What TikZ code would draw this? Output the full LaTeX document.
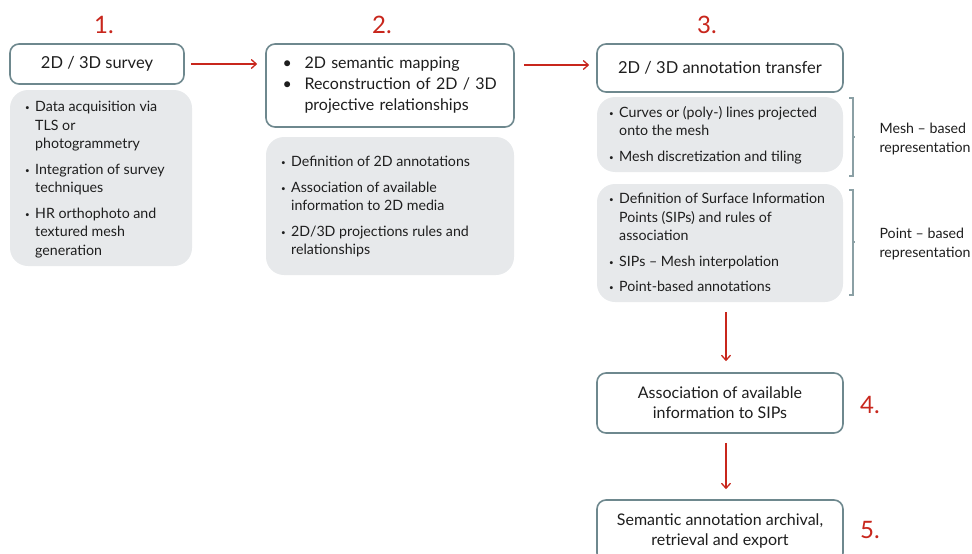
\documentclass[tikz,border=0pt]{standalone}
\usepackage{fontspec}
\setmainfont{Lato}
\usepackage{tikz}
\usetikzlibrary{arrows.meta, positioning, calc}
\definecolor{frame1}{RGB}{110, 136, 142}
\definecolor{panel1}{RGB}{231, 233, 235}
\definecolor{red1}{RGB}{200, 38, 28}
\definecolor{ink1}{RGB}{30, 30, 30}
\newcommand{\bul}{\makebox[10pt][l]{\raisebox{1pt}{\footnotesize\textbullet}}}
\newcommand{\ind}{\hspace*{10pt}}
\newcommand{\bigbul}{\makebox[22pt][l]{\textbullet}}
\tikzset{
  headbox/.style={draw=frame1, line width=1.6pt, fill=white, rounded corners=9pt, text=ink1, font=\fontsize{16.5}{20}\selectfont, align=center},
  panel/.style={fill=panel1, rounded corners=18pt, text=ink1, font=\fontsize{14.2}{18.5}\selectfont, align=left, anchor=north west, inner sep=0pt},
  stepnum/.style={text=red1, font=\fontsize{24}{24}\selectfont},
  flow/.style={draw=red1, line width=1.3pt, -{Straight Barb[length=5pt, width=9pt, line width=1.3pt]}},
  bracket/.style={draw=frame1!80, line width=1.6pt},
  sidelabel/.style={text=ink1, font=\fontsize{14.2}{18.5}\selectfont, align=left, anchor=west}
}

\begin{document}
\begin{tikzpicture}[x=1pt, y=-1pt]
  \useasboundingbox (0,0) rectangle (972,554);

  % step numbers
  \node[stepnum] (n1) at (104,25) {1.};
  \node[stepnum] (n2) at (382,25) {2.};
  \node[stepnum] (n3) at (707,25) {3.};
  \node[stepnum] (n4) at (870,405) {4.};
  \node[stepnum] (n5) at (870,530) {5.};

  % column 1
  \node[headbox, minimum width=174pt, minimum height=40pt] (survey) at (97,64) {2D / 3D survey};
  \fill[panel1, rounded corners=18pt] (10,90) rectangle (192,266);
  \node[panel] (surveytxt) at (25,101) {
    \bul Data acquisition via\\
    \ind TLS or\\
    \ind photogrammetry\\[7pt]
    \bul Integration of survey\\
    \ind techniques\\[7pt]
    \bul HR orthophoto and\\
    \ind textured mesh\\
    \ind generation
  };

  % column 2
  \node[headbox, minimum width=248pt, minimum height=83pt, align=left, text width=215pt, font=\fontsize{16}{21}\selectfont] (mapping) at (390,85.5) {
    \bigbul 2D semantic mapping\\
    \bigbul Reconstruction of 2D / 3D\\
    \hspace*{22pt}projective relationships
  };
  \fill[panel1, rounded corners=18pt] (266,137) rectangle (514,275);
  \node[panel] (mappingtxt) at (281,156) {
    \bul Definition of 2D annotations\\[7pt]
    \bul Association of available\\
    \ind information to 2D media\\[7pt]
    \bul 2D/3D projections rules and\\
    \ind relationships
  };

  % column 3
  \node[headbox, minimum width=246pt, minimum height=48pt] (transfer) at (720,68) {2D / 3D annotation transfer};
  \fill[panel1, rounded corners=18pt] (597,97) rectangle (843,172);
  \node[panel] (meshtxt) at (609,106) {
    \bul Curves or (poly-) lines projected\\
    \ind onto the mesh\\[7pt]
    \bul Mesh discretization and tiling
  };
  \fill[panel1, rounded corners=18pt] (597,184) rectangle (843,302);
  \coordinate (pointbox) at (720,302);
  \node[panel] (pointtxt) at (609,193) {
    \bul Definition of Surface Information\\
    \ind Points (SIPs) and rules of\\
    \ind association\\[7pt]
    \bul SIPs -- Mesh interpolation\\[7pt]
    \bul Point-based annotations
  };

  % brackets
  \draw[bracket] (849,98) -- (853,98) -- (853,176) -- (849,176);
  \draw[bracket] (853,137) -- (855,137);
  \draw[bracket] (849,190) -- (853,190) -- (853,295) -- (849,295);
  \draw[bracket] (853,242) -- (855,242);
  \node[sidelabel] (meshlbl) at (876,139) {Mesh -- based\\representation};
  \node[sidelabel] (pointlbl) at (876,244) {Point -- based\\representation};

  % lower steps
  \node[headbox, minimum width=246pt, minimum height=60pt, font=\fontsize{16}{20}\selectfont] (assoc) at (720,403) {Association of available\\information to SIPs};
  \node[headbox, minimum width=246pt, minimum height=62pt, font=\fontsize{16}{20}\selectfont] (archive) at (720,531) {Semantic annotation archival,\\retrieval and export};

  % arrows
  \draw[flow] ([xshift=6pt]survey.east) -- ([xshift=-8pt]survey.east -| mapping.west);
  \draw[flow] ([xshift=9pt, yshift=3pt]transfer.west -| mapping.east) -- ([xshift=-7pt, yshift=3pt]transfer.west);
  \draw[flow] ([xshift=6pt, yshift=-10pt]pointbox) -- ([xshift=6pt, yshift=11pt]assoc.north);
  \draw[flow] ([xshift=6pt, yshift=-9pt]assoc.south) -- ([xshift=6pt, yshift=10pt]archive.north);
\end{tikzpicture}
\end{document}
